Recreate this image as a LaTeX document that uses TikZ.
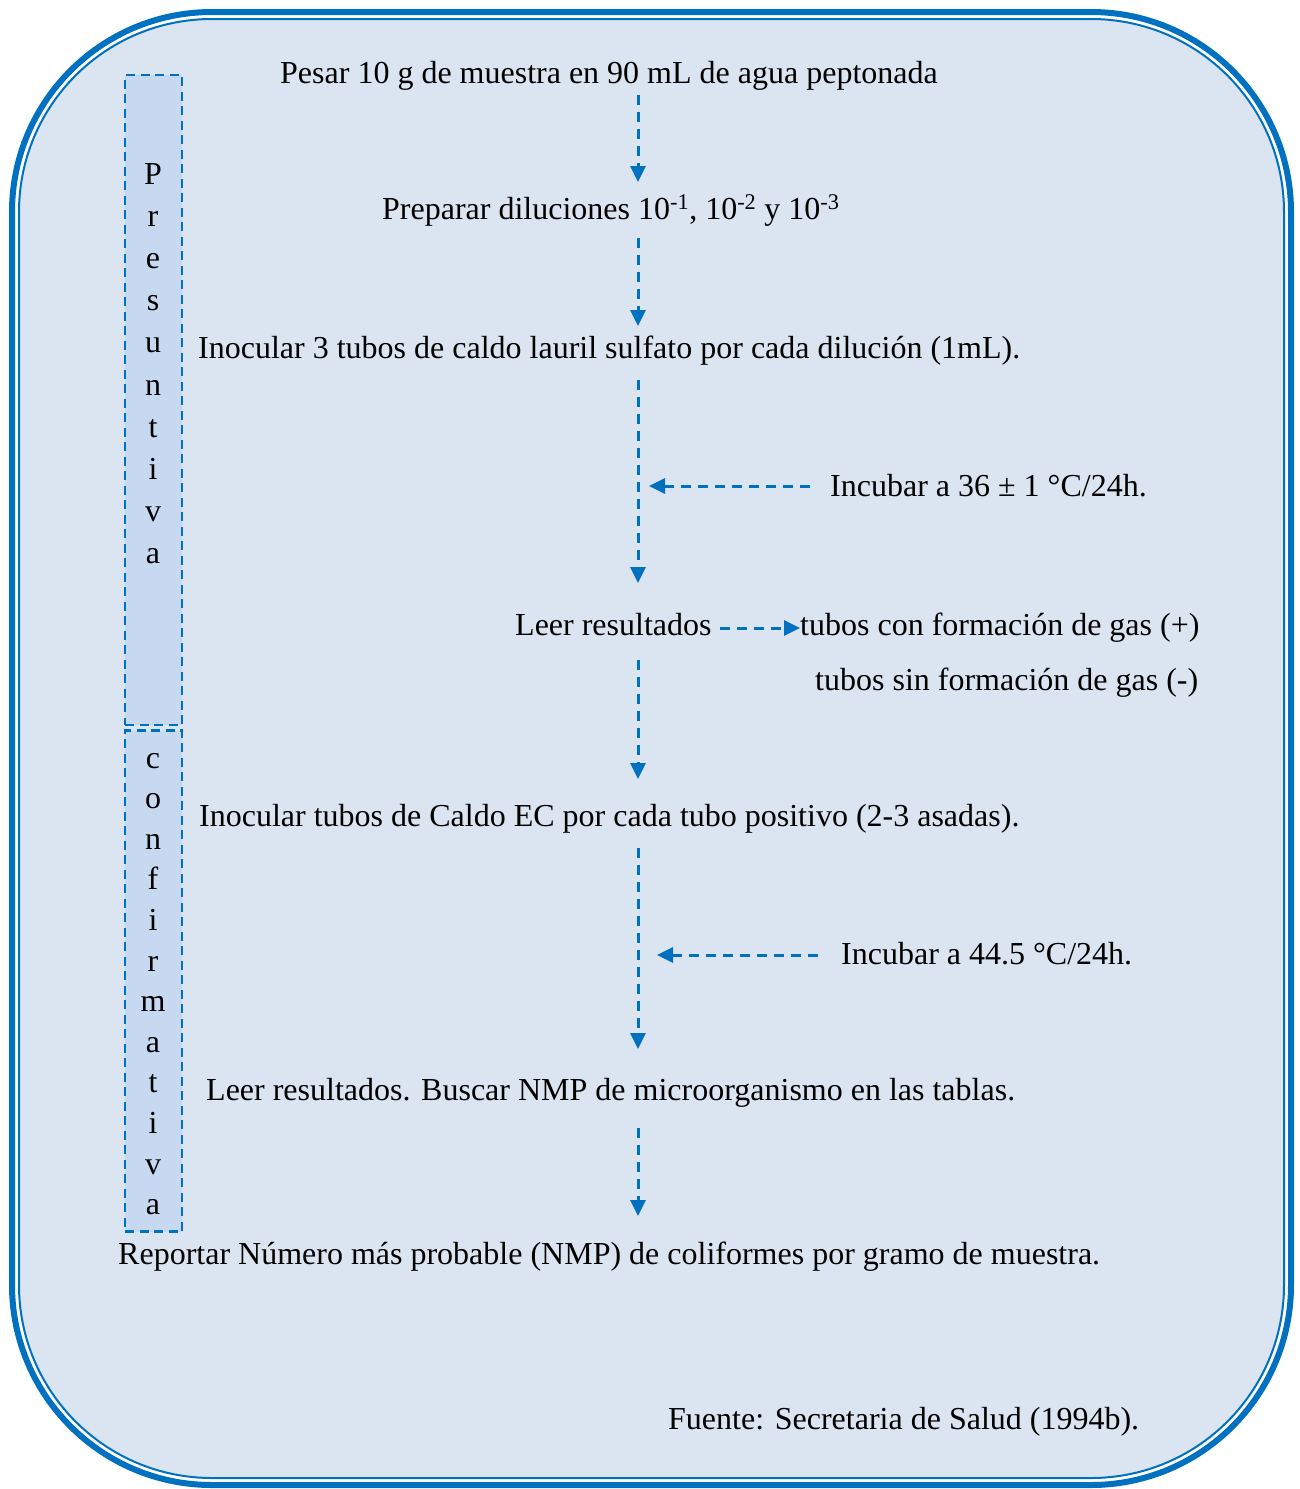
\documentclass[tikz,border=0pt]{standalone}
\usepackage{fontspec}
\setmainfont{Liberation Serif}
\usetikzlibrary{arrows.meta}
\definecolor{bord}{HTML}{0070C0}
\definecolor{bgfill}{HTML}{DBE5F1}
\definecolor{sidefill}{HTML}{C6D9F1}
\begin{document}
\begin{tikzpicture}[x=1pt,y=-1pt,
 txt/.style={anchor=base west, inner sep=0pt, font=\fontsize{32}{38}\selectfont},
 sidelet/.style={anchor=base, inner sep=0pt, font=\fontsize{32}{38}\selectfont},
 arr/.style={draw=bord, line width=3pt, dash pattern=on 10pt off 7pt, -{Triangle[length=16pt,width=15pt]}},
 sidebox/.style={draw=bord, fill=sidefill, line width=2.6pt, dash pattern=on 9pt off 5.5pt, inner sep=0pt, minimum width=57pt},
]
\useasboundingbox (0,0) rectangle (1299,1489);
\fill[white] (0,0) rectangle (1299,1489);
\draw[bord, line width=6pt, rounded corners=200pt] (12,12) rectangle (1291,1485);
\draw[bord, line width=2pt, fill=bgfill, rounded corners=193pt] (19,19) rectangle (1284,1478);

% side boxes
\node[sidebox, minimum height=650pt] (pbox) at (153.5,400) {};
\node[sidebox, minimum height=501pt] (cbox) at (153.5,981) {};
\foreach \l [count=\i] in {P,r,e,s,u,n,t,i,v,a}
  \node[sidelet] (p\i) at (153, 184+42.2*\i-42.2) {\l};
\foreach \l [count=\i] in {c,o,n,f,i,r,m,a,t,i,v,a}
  \node[sidelet] (c\i) at (153, 768+40.6*\i-40.6) {\l};

% texts
\node[txt] (t1) at (280,83) {Pesar 10 g de muestra en 90 mL de agua peptonada};
\node[txt] (t2) at (382,219) {Preparar diluciones 10\textsuperscript{-1}, 10\textsuperscript{-2} y 10\textsuperscript{-3}};
\node[txt] (t3) at (198,358) {Inocular 3 tubos de caldo lauril sulfato por cada dilución (1mL).};
\node[txt] (i1) at (830,496) {Incubar a 36 ± 1 °C/24h.};
\node[txt] (t4) at (515,635) {Leer resultados};
\node[txt] (g1) at (800,635) {tubos con formación de gas (+)};
\node[txt] (g2) at (815,690) {tubos sin formación de gas (-)};
\node[txt] (t5) at (199,826) {Inocular tubos de Caldo EC por cada tubo positivo (2-3 asadas).};
\node[txt] (i2) at (841,964) {Incubar a 44.5 °C/24h.};
\node[txt] (t6) at (206,1100) {Leer resultados. Buscar NMP de microorganismo en las tablas.};
\node[txt] (t7) at (118,1264) {Reportar Número más probable (NMP) de coliformes por gramo de muestra.};
\node[txt] (src) at (668,1429) {Fuente: Secretaria de Salud (1994b).};

% arrow end points
\coordinate (a1s) at (638,95);   \coordinate (a1e) at (638,182);
\coordinate (a2s) at (638,238);  \coordinate (a2e) at (638,326);
\coordinate (a3s) at (638,380);  \coordinate (a3e) at (638,583);
\coordinate (a4s) at (638,660);  \coordinate (a4e) at (638,779);
\coordinate (a5s) at (638,848);  \coordinate (a5e) at (638,1049);
\coordinate (a6s) at (638,1128); \coordinate (a6e) at (638,1216);
\coordinate (h1s) at (810,486);  \coordinate (h1e) at (649,486);
\coordinate (h2s) at (818,955);  \coordinate (h2e) at (657,955);
\coordinate (h3s) at (720,628);

\draw[arr] (a1s) -- (a1e);
\draw[arr] (a2s) -- (a2e);
\draw[arr] (a3s) -- (a3e);
\draw[arr] (a4s) -- (a4e);
\draw[arr] (a5s) -- (a5e);
\draw[arr] (a6s) -- (a6e);
\draw[arr] (h1s) -- (h1e);
\draw[arr] (h2s) -- (h2e);
\draw[arr] (h3s) -- (g1.west |- h3s);
\end{tikzpicture}
\end{document}
